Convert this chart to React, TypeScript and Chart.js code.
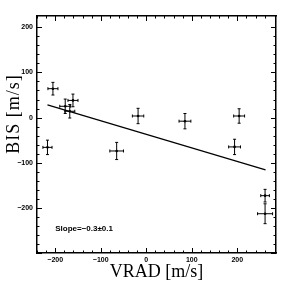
import { useEffect, useRef } from 'react';
import { Chart, registerables } from 'chart.js';

Chart.register(...registerables);

// Radial velocity (m/s) and bisector span (m/s) with uncertainties
const vrad = [-217, -205, -178, -168, -161, -65, -18, 85, 194, 204, 261, 261];
const bis = [-66, 64, 25, 14, 38, -74, 3.5, -8, -65, 3.5, -173, -213];
const vradErr = [10, 11, 12, 11, 11, 15, 12.5, 13, 13, 12, 9.5, 16.5];
const bisErr = [16, 14, 16, 15, 14, 19, 17, 17, 17, 16, 14, 22];

// Linear fit endpoints
const fitX = [-217, 262];
const fitY = [28, -116];

const slopeLabel = 'Slope=−0.3±0.1';
const slopeLabelPos = { x: -200, y: -246 };
const xTitle = 'VRAD [m/s]';
const yTitle = 'BIS [m/s]';

const xRange = [-240, 285];
const yRange = [-300, 225];
const xLabelled = [-200, -100, 0, 100, 200];
const yLabelled = [-200, -100, 0, 100, 200];
const minorStep = 20;
const majorStep = 100;

const fmt = (v: number, list: number[]) => (list.includes(v) ? (v < 0 ? '−' + Math.abs(v) : String(v)) : '');

const overlayPlugin = {
  id: 'overlay',
  afterDatasetsDraw(chart: any) {
    const { ctx, chartArea: a } = chart;
    const x = chart.scales.x;
    const y = chart.scales.y;
    ctx.save();
    ctx.strokeStyle = '#000';
    ctx.lineWidth = 1;
    // error bars
    for (let i = 0; i < vrad.length; i++) {
      const px = x.getPixelForValue(vrad[i]);
      const py = y.getPixelForValue(bis[i]);
      const x0 = x.getPixelForValue(vrad[i] - vradErr[i]);
      const x1 = x.getPixelForValue(vrad[i] + vradErr[i]);
      const y0 = y.getPixelForValue(bis[i] - bisErr[i]);
      const y1 = y.getPixelForValue(bis[i] + bisErr[i]);
      const c = 1.5;
      ctx.beginPath();
      ctx.moveTo(x0, py); ctx.lineTo(x1, py);
      ctx.moveTo(x0, py - c); ctx.lineTo(x0, py + c);
      ctx.moveTo(x1, py - c); ctx.lineTo(x1, py + c);
      ctx.moveTo(px, y0); ctx.lineTo(px, y1);
      ctx.moveTo(px - c, y0); ctx.lineTo(px + c, y0);
      ctx.moveTo(px - c, y1); ctx.lineTo(px + c, y1);
      ctx.stroke();
    }
    // inward tick marks on all four sides
    ctx.beginPath();
    x.ticks.forEach((t: any) => {
      if (t.value % minorStep !== 0) return;
      const len = t.value % majorStep === 0 ? 5 : 2.5;
      const p = Math.round(x.getPixelForValue(t.value)) + 0.5;
      ctx.moveTo(p, a.bottom); ctx.lineTo(p, a.bottom - len);
      ctx.moveTo(p, a.top); ctx.lineTo(p, a.top + len);
    });
    y.ticks.forEach((t: any) => {
      if (t.value % minorStep !== 0) return;
      const len = t.value % majorStep === 0 ? 5 : 2.5;
      const p = Math.round(y.getPixelForValue(t.value)) + 0.5;
      ctx.moveTo(a.left, p); ctx.lineTo(a.left + len, p);
      ctx.moveTo(a.right, p); ctx.lineTo(a.right - len, p);
    });
    ctx.stroke();
    // slope annotation
    ctx.fillStyle = '#000';
    ctx.font = 'bold 8px "Liberation Sans", Arial, sans-serif';
    ctx.textAlign = 'left';
    ctx.textBaseline = 'middle';
    ctx.fillText(slopeLabel, x.getPixelForValue(slopeLabelPos.x), y.getPixelForValue(slopeLabelPos.y));
    // axis titles
    ctx.font = '18px "Liberation Serif", serif';
    ctx.textAlign = 'center';
    ctx.textBaseline = 'middle';
    ctx.fillText(xTitle, (a.left + a.right) / 2, 272);
    ctx.translate(14, 114);
    ctx.rotate(-Math.PI / 2);
    (ctx as any).letterSpacing = '1px';
    ctx.fillText(yTitle, 0, 0);
    ctx.restore();
  },
};

export default function App() {
  const ref = useRef<HTMLCanvasElement>(null);
  useEffect(() => {
    if (!ref.current) return;
    const tickFont = { family: '"Liberation Sans", Arial, sans-serif', size: 7, weight: 'bold' as const };
    const border = { display: true, color: '#000', width: 1.5 };
    const chart = new Chart(ref.current, {
      type: 'scatter',
      data: {
        datasets: [
          {
            type: 'line',
            data: fitX.map((v, i) => ({ x: v, y: fitY[i] })),
            borderColor: '#000',
            borderWidth: 1.2,
            pointRadius: 0,
            showLine: true,
          } as any,
          {
            data: vrad.map((v, i) => ({ x: v, y: bis[i] })),
            backgroundColor: '#000',
            borderColor: '#000',
            pointRadius: 1.3,
            borderWidth: 0,
          },
        ],
      },
      options: {
        animation: false,
        responsive: false,
        layout: { padding: 0 },
        plugins: { legend: { display: false }, tooltip: { enabled: false } },
        scales: {
          x: {
            type: 'linear',
            position: 'bottom',
            min: xRange[0],
            max: xRange[1],
            grid: { display: false, drawTicks: false },
            border,
            ticks: { stepSize: minorStep, autoSkip: false, maxRotation: 0, padding: 3, color: '#000', font: tickFont, callback: (v: any) => fmt(Number(v), xLabelled) },
            afterFit: (s: any) => { s.height = 31; },
          },
          x2: {
            type: 'linear',
            position: 'top',
            min: xRange[0],
            max: xRange[1],
            grid: { display: false, drawTicks: false },
            border,
            ticks: { display: false },
            afterFit: (s: any) => { s.height = 16; },
          },
          y: {
            type: 'linear',
            position: 'left',
            min: yRange[0],
            max: yRange[1],
            grid: { display: false, drawTicks: false },
            border,
            ticks: { stepSize: minorStep, autoSkip: false, padding: 4, color: '#000', font: tickFont, callback: (v: any) => fmt(Number(v), yLabelled) },
            afterFit: (s: any) => { s.width = 37; },
          },
          y2: {
            type: 'linear',
            position: 'right',
            min: yRange[0],
            max: yRange[1],
            grid: { display: false, drawTicks: false },
            border,
            ticks: { display: false },
            afterFit: (s: any) => { s.width = 15; },
          },
        },
      },
      plugins: [overlayPlugin],
    });
    return () => chart.destroy();
  }, []);
  return (
    <div style={{ position: 'absolute', left: 0, top: 0, width: 291, height: 284, background: '#fff' }}>
      <canvas ref={ref} width={291} height={284} />
    </div>
  );
}
